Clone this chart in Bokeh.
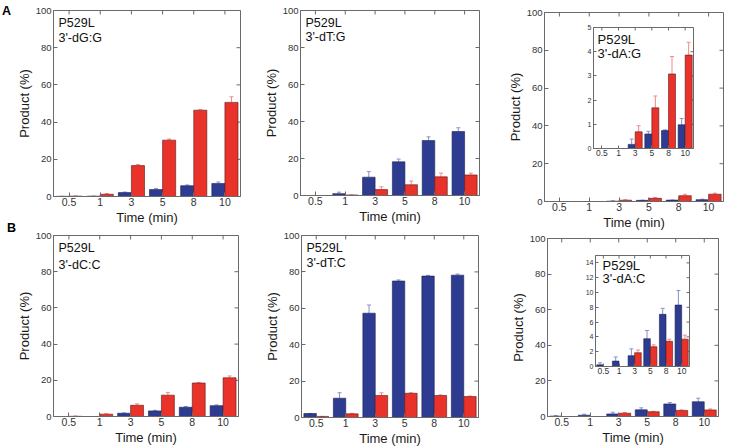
from bokeh.plotting import figure
from bokeh.models import (ColumnDataSource, FactorRange, Range1d, FixedTicker, Whisker, TeeHead,
                          Label, GridBox, Div)
from bokeh.transform import dodge
from bokeh.embed import file_html
from bokeh.resources import INLINE

# ---------------- data ----------------
times = ["0.5", "1", "3", "5", "8", "10"]
yticks_main = [0, 20, 40, 60, 80, 100]
yticks_inset5 = [0, 1, 2, 3, 4, 5]
yticks_inset15 = [0, 2, 4, 6, 8, 10, 12, 14]
panel_letters = ["A", "B"]

# 3'-dG:G
dGG_blue = [0.1, 0.2, 2.1, 3.7, 5.8, 7.0]
dGG_blue_err = [0.0, 0.0, 0.3, 0.6, 0.4, 0.8]
dGG_red = [0.2, 1.2, 16.6, 30.3, 46.4, 50.6]
dGG_red_err = [0.1, 0.4, 0.6, 0.6, 0.3, 3.0]

# 3'-dT:G
dTG_blue = [0.0, 1.0, 9.9, 18.2, 29.7, 34.6]
dTG_blue_err = [0.0, 0.8, 3.0, 1.5, 2.0, 2.0]
dTG_red = [0.0, 0.3, 3.2, 5.8, 10.1, 11.1]
dTG_red_err = [0.0, 0.0, 1.5, 2.0, 2.0, 1.0]

# 3'-dA:G
dAG_blue = [0.0, 0.0, 0.17, 0.60, 0.74, 0.98]
dAG_blue_err = [0.0, 0.0, 0.22, 0.11, 0.03, 0.26]
dAG_red = [0.0, 0.0, 0.69, 1.68, 3.08, 3.86]
dAG_red_err = [0.0, 0.0, 0.25, 0.49, 0.72, 0.53]

# 3'-dC:C
dCC_blue = [0.0, 0.0, 1.8, 3.1, 5.1, 6.0]
dCC_blue_err = [0.0, 0.0, 0.2, 0.3, 0.4, 0.4]
dCC_red = [0.1, 1.3, 6.2, 11.8, 18.5, 21.4]
dCC_red_err = [0.2, 0.2, 0.8, 1.5, 0.3, 1.0]

# 3'-dT:C
dTC_blue = [2.2, 10.6, 57.3, 75.0, 77.7, 78.2]
dTC_blue_err = [0.0, 3.0, 4.5, 0.6, 0.4, 0.6]
dTC_red = [0.6, 2.0, 12.1, 13.3, 12.1, 11.5]
dTC_red_err = [0.0, 0.3, 1.5, 0.3, 0.3, 0.3]

# 3'-dA:C
dAC_blue = [0.22, 0.73, 1.46, 3.76, 7.05, 8.3]
dAC_blue_err = [0.28, 0.55, 0.92, 1.1, 0.81, 1.97]
dAC_red = [0.0, 0.0, 1.86, 2.67, 3.4, 3.69]
dAC_red_err = [0.0, 0.0, 0.37, 0.25, 0.29, 0.55]

# ---------------- style ----------------
FONT = "Liberation Sans"
BLUE = "#2D3B91"
RED = "#E8322A"
BLUE_ERR = "#8690D0"
RED_ERR = "#F2898A"
FRAME = "#6a6a6a"


def make_panel(box, borders, ymax, yticks, blue, blue_err, red, red_err,
               ytick_fs="9.5px", xtick_fs="10.5px", tick_len=4, axis_labels=True,
               texts=(), text_fs="12.5px"):
    left, top, right, bottom = box
    bl, bt, br, bb = borders
    p = figure(x_range=FactorRange(factors=times), y_range=Range1d(0, ymax),
               width=bl + right - left + br, height=bt + bottom - top + bb,
               min_border_left=bl, min_border_right=br,
               min_border_top=bt, min_border_bottom=bb,
               output_backend="svg", toolbar_location=None, title=None)
    p.margin = (top - bt, 0, 0, left - bl)
    p.border_fill_alpha = 0
    p.background_fill_color = "white"
    p.outline_line_color = FRAME
    p.outline_line_width = 1
    p.xgrid.visible = False
    p.ygrid.visible = False

    ya = p.yaxis[0]
    ya.ticker = FixedTicker(ticks=yticks, minor_ticks=[])
    xa = p.xaxis[0]
    for ax in (ya, xa):
        ax.major_tick_in = tick_len
        ax.major_tick_out = 0
        ax.minor_tick_in = 0
        ax.minor_tick_out = 0
        ax.axis_line_color = FRAME
        ax.major_tick_line_color = FRAME
        ax.major_label_text_font = FONT
        ax.major_label_text_color = "#333333"
        ax.major_label_standoff = 2
        ax.axis_label_text_font = FONT
        ax.axis_label_text_font_style = "normal"
        ax.axis_label_text_font_size = "13px"
        ax.axis_label_text_color = "#1a1a1a"
        ax.axis_label_standoff = 1
    ya.major_label_text_font_size = ytick_fs
    xa.major_label_text_font_size = xtick_fs
    xa.major_label_standoff = 1
    if axis_labels:
        ya.axis_label = "Product (%)"
        xa.axis_label = "Time (min)"

    # mirrored inward ticks on top and right edges (markers half clipped by the frame)
    top_src = ColumnDataSource(dict(t=times, y=[ymax] * len(times)))
    p.scatter(x="t", y="y", source=top_src, marker="dash", angle=1.5708,
              size=2 * tick_len, line_color=FRAME, line_width=1)
    right_src = ColumnDataSource(dict(t=[times[-1]] * len(yticks), y=yticks))
    p.scatter(x=dodge("t", 0.5, range=p.x_range), y="y", source=right_src, marker="dash",
              size=2 * tick_len, line_color=FRAME, line_width=1)

    src = ColumnDataSource(dict(
        t=times, blue=blue, red=red,
        blue_hi=[b + e for b, e in zip(blue, blue_err)],
        red_hi=[r + e for r, e in zip(red, red_err)],
    ))
    xb = dodge("t", -0.21, range=p.x_range)
    xr = dodge("t", 0.21, range=p.x_range)
    for xx, lo, hi, col in ((xb, "blue", "blue_hi", BLUE_ERR), (xr, "red", "red_hi", RED_ERR)):
        p.add_layout(Whisker(source=src, base=xx, lower=lo, upper=hi, line_color=col,
                             line_width=1, lower_head=None,
                             upper_head=TeeHead(size=4, line_color=col, line_width=1)))
    p.vbar(x=xb, top="blue", width=0.42, source=src, fill_color=BLUE,
           line_color="#1c2250", line_width=0.6)
    p.vbar(x=xr, top="red", width=0.42, source=src, fill_color=RED,
           line_color="#5a1a1a", line_width=0.6)

    for (txt, tx, ty) in texts:
        p.add_layout(Label(x=tx - left, x_units="screen",
                           y=ymax * (bottom - ty) / (bottom - top), y_units="data",
                           text=txt, text_font=FONT, text_font_size=text_fs,
                           text_baseline="middle", text_color="#111111"))
    return p


def letter(txt, top, left):
    return Div(text=txt, width=14, height=16, margin=(top, 0, 0, left),
               styles={"font-family": FONT, "font-weight": "bold", "font-size": "12.5px",
                       "line-height": "16px", "color": "#000000"})


# Row A
p1 = make_panel((50, 8, 240, 197), (50, 8, 6, 30), 100, yticks_main,
                dGG_blue, dGG_blue_err, dGG_red, dGG_red_err,
                texts=[("P529L", 55, 21), ("3'-dG:G", 55, 36)])
p2 = make_panel((292, 8, 479, 196), (45, 8, 6, 30), 100, yticks_main,
                dTG_blue, dTG_blue_err, dTG_red, dTG_red_err,
                texts=[("P529L", 297, 21), ("3'-dT:G", 297, 35)])
p3 = make_panel((536, 10, 728, 202), (45, 8, 1, 30), 100, yticks_main,
                dAG_blue, dAG_blue_err, dAG_red, dAG_red_err)
i3 = make_panel((552, 21, 696, 167), (12, 4, 3, 12), 5, yticks_inset5,
                dAG_blue, dAG_blue_err, dAG_red, dAG_red_err,
                ytick_fs="7px", xtick_fs="8.5px", tick_len=3, axis_labels=False,
                texts=[("P529L", 556, 36), ("3'-dA:G", 556, 52)], text_fs="13px")
# Row B
p4 = make_panel((53, 235, 238, 419), (53, 10, 6, 28), 100, yticks_main,
                dCC_blue, dCC_blue_err, dCC_red, dCC_red_err,
                texts=[("P529L", 58, 248), ("3'-dC:C", 58, 265)])
p5 = make_panel((293, 235, 478, 420), (45, 10, 6, 28), 100, yticks_main,
                dTC_blue, dTC_blue_err, dTC_red, dTC_red_err,
                texts=[("P529L", 298, 248), ("3'-dT:C", 298, 263)])
p6 = make_panel((539, 238, 718, 419), (45, 10, 6, 28), 100, yticks_main,
                dAC_blue, dAC_blue_err, dAC_red, dAC_red_err)
i6 = make_panel((554, 249, 692, 385), (12, 4, 3, 12), 15, yticks_inset15,
                dAC_blue, dAC_blue_err, dAC_red, dAC_red_err,
                ytick_fs="7px", xtick_fs="8.5px", tick_len=3, axis_labels=False,
                texts=[("P529L", 561, 261), ("3'-dA:C", 561, 277)], text_fs="13px")

la = letter(panel_letters[0], 3, 2)
lb = letter(panel_letters[1], 220, 7)

items = [p1, p2, p3, i3, p4, p5, p6, i6, la, lb]
root = GridBox(children=[(f, 0, 0) for f in items])

open("out.html", "w").write(file_html(root, INLINE))
